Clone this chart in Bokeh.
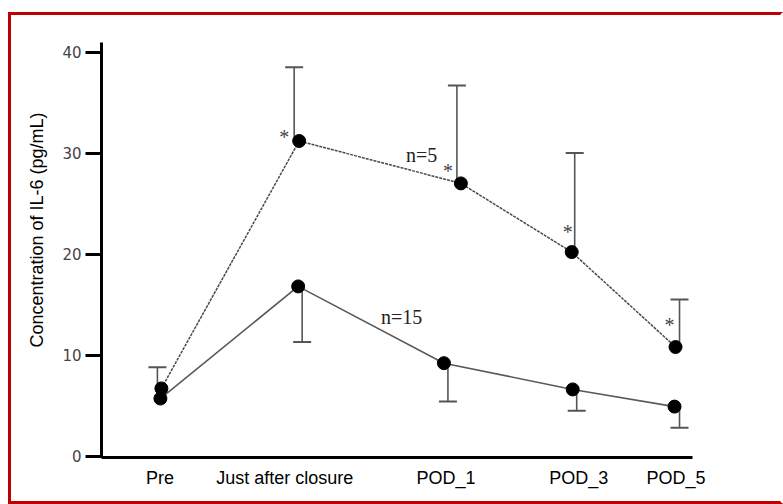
from bokeh.plotting import figure
from bokeh.models import (ColumnDataSource, Whisker, TeeHead, FixedTicker,
                          Range1d, Title)
from bokeh.core.properties import value
from bokeh.embed import file_html
from bokeh.resources import INLINE

# ---- data ----
categories = ["Pre", "Just after closure", "POD_1", "POD_3", "POD_5"]
label_pos = [0.585, 1.835, 3.45, 4.78, 5.755]
y_ticks = [0, 10, 20, 30, 40]

# n=5 group (dashed line, upper error bars)
n5_x = [0.60, 1.98, 3.60, 4.71, 5.75]
n5_mean = [6.7, 31.2, 27.0, 20.2, 10.8]
n5_err_x = [0.56, 1.93, 3.56, 4.74, 5.79]
n5_upper = [8.8, 38.5, 36.7, 30.0, 15.5]

# n=15 group (solid line, lower error bars)
n15_x = [0.59, 1.97, 3.43, 4.72, 5.74]
n15_mean = [5.7, 16.8, 9.2, 6.6, 4.9]
n15_err_x = [None, 2.01, 3.47, 4.76, 5.79]
n15_lower = [None, 11.3, 5.4, 4.5, 2.8]

# significance marks on the n=5 group
star_x = [1.83, 3.47, 4.67, 5.69]
star_y = [31.6, 28.2, 22.2, 13.0]

# group labels
n_label_x = [3.05, 2.80]
n_label_y = [29.8, 13.8]
n_label_text = ["n=5", "n=15"]

y_title = "Concentration of IL-6 (pg/mL)"

# ---- figure ----
p = figure(width=775, height=492,
           x_range=Range1d(0, 5.92), y_range=Range1d(-0.14, 40.95),
           output_backend="svg", toolbar_location=None,
           min_border_left=89, min_border_right=94,
           min_border_top=27, min_border_bottom=50)
p.styles = {"margin-left": "8px", "margin-top": "12px",
            "box-sizing": "border-box", "overflow": "hidden",
            "border-left": "3px solid #c00000",
            "border-top": "3px solid #c00000",
            "border-bottom": "3px solid #c00000",
            "border-right": "3px solid white"}
p.xgrid.visible = False
p.ygrid.visible = False
p.outline_line_color = None
p.background_fill_color = "white"
p.border_fill_color = "white"

# y axis
ya = p.yaxis[0]
ya.ticker = FixedTicker(ticks=y_ticks)
ya.axis_line_width = 3
ya.axis_line_color = "black"
ya.major_tick_line_width = 3
ya.major_tick_line_color = "black"
ya.major_tick_out = 16
ya.major_tick_in = 0
ya.minor_tick_out = 0
ya.minor_tick_in = 0
ya.major_label_text_font = "DejaVu Sans"
ya.major_label_text_font_size = "15px"
ya.major_label_text_color = "#444444"
ya.major_label_standoff = 4

# x axis
xa = p.xaxis[0]
xa.ticker = FixedTicker(ticks=label_pos)
xa.major_label_overrides = {pos: c for pos, c in zip(label_pos, categories)}
xa.axis_line_width = 3
xa.axis_line_color = "black"
xa.major_tick_out = 0
xa.major_tick_in = 0
xa.minor_tick_out = 0
xa.minor_tick_in = 0
xa.major_label_text_font = "Liberation Sans"
xa.major_label_text_font_size = "18px"
xa.major_label_text_color = "black"
xa.major_label_standoff = 10

# y title as a left-side title (so it can be shifted along the axis)
p.add_layout(Title(text=y_title, align="left", offset=110, standoff=26,
                   text_font="Liberation Sans", text_font_size="18px",
                   text_font_style="normal", text_color="black"), "left")

# lines
p.line(n15_x, n15_mean, line_color="#5a5a5a", line_width=1.6)
p.line(n5_x, n5_mean, line_color="#4a4a4a", line_width=1.5, line_dash="3 1")

# error bars
src5 = ColumnDataSource(dict(base=n5_err_x, lower=n5_mean, upper=n5_upper))
w5 = Whisker(source=src5, base="base", lower="lower", upper="upper",
             dimension="height", line_color="#555555", line_width=1.6,
             upper_head=TeeHead(size=18, line_color="#555555", line_width=2),
             lower_head=None)
p.add_layout(w5)

idx = [i for i, v in enumerate(n15_lower) if v is not None]
src15 = ColumnDataSource(dict(base=[n15_err_x[i] for i in idx],
                              lower=[n15_lower[i] for i in idx],
                              upper=[n15_mean[i] for i in idx]))
w15 = Whisker(source=src15, base="base", lower="lower", upper="upper",
              dimension="height", line_color="#555555", line_width=1.6,
              lower_head=TeeHead(size=18, line_color="#555555", line_width=2),
              upper_head=None)
p.add_layout(w15)

# dots
p.scatter(n15_x, n15_mean, size=13, color="black")
p.scatter(n5_x, n5_mean, size=13, color="black")

# asterisks
p.text(x=star_x, y=star_y, text=["*"] * len(star_x),
       text_font=value("Liberation Serif"), text_font_size="20px",
       text_align="center", text_baseline="middle", text_color="#444444")

# n labels
p.text(x=n_label_x, y=n_label_y, text=n_label_text,
       text_font=value("Liberation Serif"), text_font_size="20px",
       text_align="left", text_baseline="middle", text_color="#222222")

open("out.html", "w").write(file_html(p, INLINE))
